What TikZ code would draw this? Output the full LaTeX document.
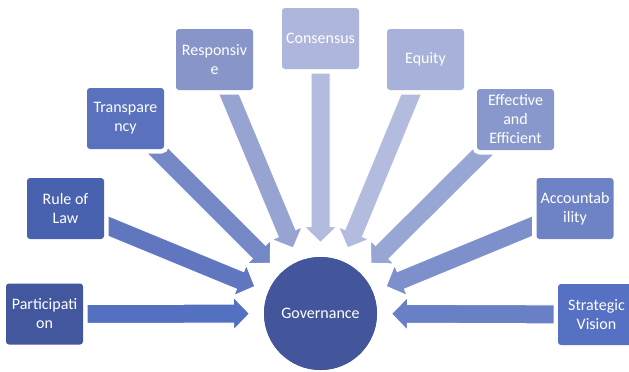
\documentclass[tikz,border=0pt]{standalone}
\usepackage{fontspec}
\setmainfont{Carlito}
\usetikzlibrary{calc}
\definecolor{cgov}{HTML}{43569B}
\definecolor{bpart}{HTML}{42579E}
\definecolor{brule}{HTML}{4862B0}
\definecolor{btrans}{HTML}{5A72BE}
\definecolor{bresp}{HTML}{8795C9}
\definecolor{bcons}{HTML}{AEB6DB}
\definecolor{bequi}{HTML}{A7B1D9}
\definecolor{beff}{HTML}{8898CC}
\definecolor{bacc}{HTML}{6E83C6}
\definecolor{bstrat}{HTML}{5670C4}
\definecolor{apart}{HTML}{5470C0}
\definecolor{arule}{HTML}{6077C0}
\definecolor{atrans}{HTML}{7488C6}
\definecolor{aresp}{HTML}{97A4D2}
\definecolor{acons}{HTML}{B2BADE}
\definecolor{aequi}{HTML}{B3BCDF}
\definecolor{aeff}{HTML}{98A6D4}
\definecolor{aacc}{HTML}{7E90CB}
\definecolor{astrat}{HTML}{6A80C6}
\tikzset{
  pbox/.style={rectangle, rounded corners=3pt, minimum width=77pt, minimum height=61pt,
    inner sep=0pt, align=center, text=white, font=\fontsize{16}{19}\selectfont,
    preaction={draw=white, line width=9pt}},
  govc/.style={circle, fill=cgov, minimum size=113pt, inner sep=0pt, text=white,
    font=\fontsize{16}{19}\selectfont},
  barrow/.style={draw=white, line width=1pt, line join=miter}
}
\newcommand\blkarrow[3]{%
  \path (#1.center) coordinate (t);
  \path ($(gov.center)!71pt!(#1.center)$) coordinate (#2);
  \path ($(#2)!16pt!(t)$) coordinate (b);
  \fill[barrow, fill=#3]
    ($(t)!9.5pt!90:(#2)$) -- ($(b)!9.5pt!-90:(t)$) -- ($(b)!16.5pt!-90:(t)$) -- (#2)
    -- ($(b)!16.5pt!90:(t)$) -- ($(b)!9.5pt!90:(t)$) -- ($(t)!9.5pt!-90:(#2)$) -- cycle;
}
\begin{document}
\begin{tikzpicture}[x=1pt,y=-1pt]
\useasboundingbox (0,0) rectangle (629,372);
\clip (0,0) rectangle (629,372);
% node positions (not drawn yet)
\path (320.5,313.5) coordinate (govpos);
\node[govc] (gov) at (govpos) {};
\path (44.5,314) coordinate (c1);
\path (65.5,208.5) coordinate (c2);
\path (125.5,118.5) coordinate (c3);
\path (214.5,59.5) coordinate (c4);
\path (320.5,38.5) coordinate (c5);
\path (425.5,59.5) coordinate (c6);
\path (515.5,119.5) coordinate (c7);
\path (575,208.5) coordinate (c8);
\path (596.5,314.5) coordinate (c9);
\coordinate (n1) at (c1); \coordinate (n2) at (c2); \coordinate (n3) at (c3);
\coordinate (n4) at (c4); \coordinate (n5) at (c5); \coordinate (n6) at (c6);
\coordinate (n7) at (c7); \coordinate (n8) at (c8); \coordinate (n9) at (c9);
% arrows
\blkarrow{n5}{tip5}{acons}
\blkarrow{n4}{tip4}{aresp}
\blkarrow{n6}{tip6}{aequi}
\blkarrow{n3}{tip3}{atrans}
\blkarrow{n7}{tip7}{aeff}
\blkarrow{n2}{tip2}{arule}
\blkarrow{n8}{tip8}{aacc}
\blkarrow{n1}{tip1}{apart}
\blkarrow{n9}{tip9}{astrat}
% boxes
\node[pbox, fill=bpart] (part) at (c1) {Participati\\on};
\node[pbox, fill=brule] (rule) at (c2) {Rule of\\Law};
\node[pbox, fill=btrans] (trans) at (c3) {Transpare\\ncy};
\node[pbox, fill=bresp] (resp) at (c4) {Responsiv\\e};
\node[pbox, fill=bcons] (cons) at (c5) {Consensus};
\node[pbox, fill=bequi] (equi) at (c6) {Equity};
\node[pbox, fill=beff] (eff) at (c7) {Effective\\and\\Efficient};
\node[pbox, fill=bacc] (acc) at (c8) {Accountab\\ility};
\node[pbox, fill=bstrat] (strat) at (c9) {Strategic\\Vision};
\node[govc] at (govpos) {Governance};
\end{tikzpicture}
\end{document}
